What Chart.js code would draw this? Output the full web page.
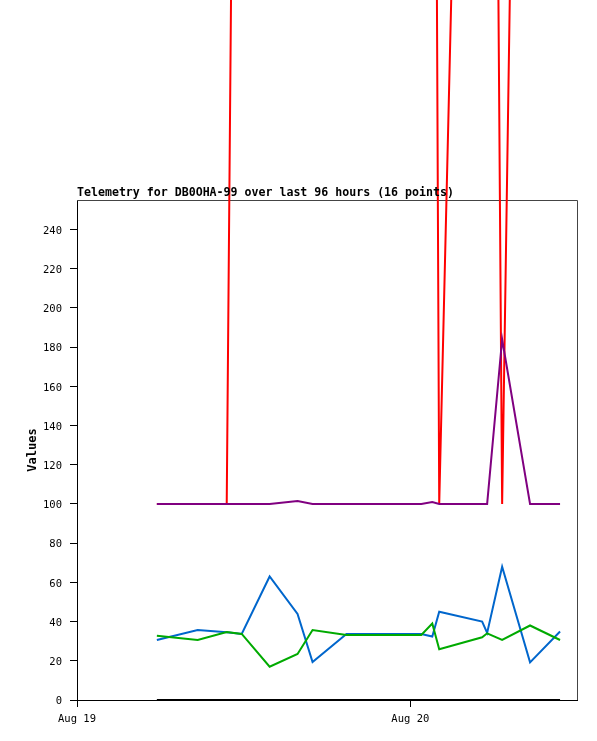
<!DOCTYPE html>
<html>
<head>
<meta charset="utf-8">
<script src="https://cdn.jsdelivr.net/npm/chart.js@4/dist/chart.umd.min.js"></script>
<style>
  html, body { margin: 0; padding: 0; background: #fff; }
  canvas { display: block; }
</style>
</head>
<body>
<canvas id="telemetry" width="597" height="741"></canvas>
<script>
// hours since Aug 19 00:00 for each of the 16 telemetry points
const hours = [5.75, 8.69, 10.78, 11.86, 13.87, 15.88, 16.96, 19.40, 24.79, 25.58, 26.08, 29.17, 29.53, 30.61, 32.62, 34.78];

const ch1 = [100, 100, 100, 1000, 1000, 1000, 1000, 1000, 1000, 880, 100, 1020, 1140, 100, 1040, 1000];
const ch2 = [100, 100, 100, 100, 100, 101.5, 100, 100, 100, 101, 100, 100, 100, 184, 100, 100];
const ch3 = [30.6, 35.7, 34.5, 33.7, 63, 43.9, 19.4, 33.7, 33.7, 32.4, 45, 40, 34.2, 68, 19.2, 34.9];
const ch4 = [32.8, 30.6, 34.7, 33.7, 17, 23.5, 35.7, 33.2, 33.2, 39, 25.9, 32, 34, 30.6, 38, 30.6];
const ch5 = [0, 0, 0, 0, 0, 0, 0, 0, 0, 0, 0, 0, 0, 0, 0, 0];

const xTicks = [0, 24];
const xTickLabels = ['Aug 19', 'Aug 20'];
const yTicks = [0, 20, 40, 60, 80, 100, 120, 140, 160, 180, 200, 220, 240];

const titleText = 'Telemetry for DB0OHA-99 over last 96 hours (16 points)';
const mono = "'DejaVu Sans Mono', 'Liberation Mono', monospace";

function series(values) {
  return hours.map((h, i) => ({ x: h, y: values[i] }));
}

function line(values, color, extra) {
  return Object.assign({
    data: series(values),
    borderColor: color,
    borderWidth: 2,
    pointRadius: 0,
    tension: 0,
    fill: false
  }, extra || {});
}

// top title and the grey frame on top/right of the plot
const framePlugin = {
  id: 'frame',
  beforeDatasetsDraw(chart) {
    const { ctx, chartArea: a } = chart;
    ctx.save();
    ctx.strokeStyle = '#444';
    ctx.lineWidth = 1;
    ctx.beginPath();
    ctx.moveTo(a.left, a.top + 0.5);
    ctx.lineTo(a.right + 0.5, a.top + 0.5);
    ctx.lineTo(a.right + 0.5, a.bottom);
    ctx.stroke();
    ctx.restore();
  },
  afterDraw(chart) {
    const { ctx, chartArea: a } = chart;
    ctx.save();
    ctx.fillStyle = '#000';
    ctx.font = 'bold 11.6px ' + mono;
    ctx.textAlign = 'left';
    ctx.textBaseline = 'alphabetic';
    ctx.fillText(titleText, a.left, a.top - 4);
    ctx.restore();
  }
};

new Chart(document.getElementById('telemetry'), {
  type: 'line',
  data: {
    datasets: [
      line(ch5, '#000000', { clip: false }),
      line(ch2, '#800080'),
      line(ch4, '#00aa00'),
      line(ch3, '#0066cc'),
      line(ch1, '#ff0000', { clip: false })
    ]
  },
  options: {
    responsive: false,
    animation: false,
    devicePixelRatio: 1,
    layout: { padding: { top: 200, right: 20, left: 0, bottom: 0 } },
    plugins: {
      legend: { display: false },
      tooltip: { enabled: false }
    },
    scales: {
      x: {
        type: 'linear',
        min: 0,
        max: 36,
        afterFit: s => { s.height = 41; },
        afterBuildTicks: s => { s.ticks = xTicks.map(v => ({ value: v })); },
        grid: { drawOnChartArea: false, tickLength: 7, color: '#000' },
        border: { color: '#000', width: 1 },
        ticks: {
          color: '#000',
          padding: 6,
          maxRotation: 0,
          font: { family: mono, size: 10.5 },
          callback: v => xTickLabels[xTicks.indexOf(v)]
        }
      },
      y: {
        min: 0,
        max: 255,
        afterFit: s => { s.width = 77; },
        afterBuildTicks: s => { s.ticks = yTicks.map(v => ({ value: v })); },
        grid: { drawOnChartArea: false, tickLength: 7, color: '#000' },
        border: { color: '#000', width: 1 },
        ticks: {
          color: '#000',
          padding: 8,
          labelOffset: 1.5,
          font: { family: mono, size: 10.5 }
        },
        title: {
          display: true,
          text: 'Values',
          color: '#000',
          padding: { top: 26, bottom: 0 },
          font: { family: mono, size: 12, weight: 'bold' }
        }
      }
    }
  },
  plugins: [framePlugin]
});
</script>
</body>
</html>
